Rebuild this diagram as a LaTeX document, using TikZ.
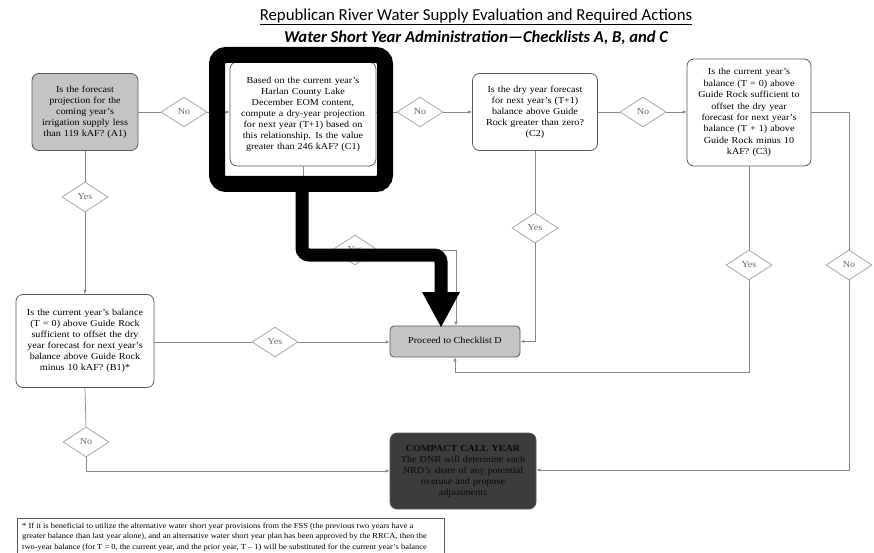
\documentclass[tikz,border=0pt]{standalone}
\usepackage{fontspec}
\setmainfont[FakeStretch=1.1]{Liberation Serif}
\newfontfamily\titlefont{Carlito}
\usetikzlibrary{shapes.geometric,arrows.meta}
\definecolor{boxline}{HTML}{5A5A5A}
\definecolor{conn}{HTML}{8A8A8A}
\definecolor{dline}{HTML}{A8A8A8}
\definecolor{dtext}{HTML}{6A6A6A}
\definecolor{boxgray}{HTML}{C4C4C4}
\definecolor{darkbox}{HTML}{3C3C3C}
\definecolor{darktext}{HTML}{0A0A0A}
\tikzset{
  qbox/.style={draw=boxline, line width=0.8pt, rounded corners=7pt, align=center,
    font=\fontsize{9.2}{11}\selectfont, inner sep=2pt, fill=white},
  dia/.style={diamond, draw=dline, line width=0.8pt, fill=white, inner sep=0pt,
    minimum width=46pt, minimum height=30pt, text=dtext, font=\fontsize{9.2}{10}\selectfont},
  conn/.style={draw=conn, line width=0.7pt},
  arr/.style={conn, -{Latex[length=4pt,width=3.4pt]}},
}
\begin{document}
\begin{tikzpicture}[x=1pt,y=-1pt]
\useasboundingbox (0,0) rectangle (874,553);
% titles
\node (t1) at (476,17) {\titlefont\fontsize{16.8}{18}\selectfont\underline{Republican River Water Supply Evaluation and Required Actions}};
\node (t2) at (476,38) {\titlefont\fontsize{16.6}{18}\selectfont\bfseries\itshape Water Short Year Administration—Checklists A, B, and C};
% boxes
\node[qbox, fill=boxgray, minimum width=106pt, minimum height=77pt, text width=102pt] (A1) at (85,112)
  {Is the forecast\\projection for the\\coming year's\\irrigation supply less\\than 119 kAF? (A1)};
\node[qbox, minimum width=146pt, minimum height=104pt, text width=142pt] (C1) at (303,114)
  {Based on the current year's\\Harlan County Lake\\December EOM content,\\compute a dry-year projection\\for next year (T+1) based on\\this relationship. Is the value\\greater than 246 kAF? (C1)\\[14pt]};
\node[qbox, minimum width=125pt, minimum height=77pt, text width=121pt] (C2) at (535,112)
  {Is the dry year forecast\\for next year's (T+1)\\balance above Guide\\Rock greater than zero?\\(C2)};
\node[qbox, minimum width=124pt, minimum height=107pt, text width=120pt, font=\fontsize{9.2}{11.4}\selectfont] (C3) at (749,112.5)
  {Is the current year's\\balance (T = 0) above\\Guide Rock sufficient to\\offset the dry year\\forecast for next year's\\balance (T + 1) above\\Guide Rock minus 10\\kAF? (C3)};
\node[qbox, minimum width=138pt, minimum height=93pt, text width=134pt] (B1) at (85,341)
  {Is the current year's balance\\(T = 0) above Guide Rock\\sufficient to offset the dry\\year forecast for next year's\\balance above Guide Rock\\minus 10 kAF? (B1)*};
\node[qbox, fill=boxgray, minimum width=130pt, minimum height=31pt, rounded corners=4pt, inner sep=0pt] (P) at (455,341.5)
  {\raisebox{3pt}{Proceed to Checklist D}};
\node[qbox, fill=darkbox, text=darktext, minimum width=146pt, minimum height=76pt, text width=142pt] (CC) at (463,471)
  {\textbf{COMPACT CALL YEAR}\\The DNR will determine each\\NRD's share of any potential\\overuse and propose\\adjustments};
% decision labels
\node[dia] (nA1) at (184,112) {No};
\node[dia] (nC1) at (420,112) {No};
\node[dia] (nC2) at (643,112) {No};
\node[dia] (yA1) at (85,197) {Yes};
\node[dia] (yB1) at (275,342) {Yes};
\node[dia] (nB1) at (86,442) {No};
\node[dia] (yC1) at (355,250) {Yes};
\node[dia] (yC2) at (535,228) {Yes};
\node[dia] (yC3) at (749,265) {Yes};
\node[dia] (nC3) at (849,265) {No};
% connectors
\coordinate (c1turn) at (456,250);
\coordinate (c3low) at (749,372);
\coordinate (c3turn) at (455,372);
\coordinate (c3r) at (849,112);
\coordinate (c3bot) at (849,470);
\coordinate (b1bot) at (86,471);
\draw[conn] (A1.east |- nA1) -- (nA1.west);
\draw[arr] (nA1.east) -- (C1.west |- nA1);
\draw[conn] (C1.east |- nC1) -- (nC1.west);
\draw[arr] (nC1.east) -- (C2.west);
\draw[conn] (C2.east) -- (nC2.west);
\draw[arr] (nC2.east) -- (C3.west |- nC2);
\draw[conn] (A1.south) -- (yA1.north);
\draw[arr] (yA1.south) -- (B1.north);
\draw[conn] (B1.east |- yB1) -- (yB1.west);
\draw[arr] (yB1.east) -- (P.west |- yB1);
\draw[conn] (C1.south) -- (C1.south |- yC1.west) -- (yC1.west);
\draw[arr] (yC1.east) -- (c1turn) -- (c1turn |- P.north);
\draw[conn] (C2.south) -- (yC2.north);
\draw[arr] (yC2.south) -- (yC2.south |- P.east) -- (P.east);
\draw[conn] (C3.south) -- (yC3.north);
\draw[arr] (yC3.south) -- (c3low) -- (c3turn) -- (c3turn |- P.south);
\draw[conn] (C3.east |- c3r) -- (c3r) -- (nC3.north);
\draw[arr] (nC3.south) -- (c3bot) -- (CC.east |- c3bot);
\draw[conn] (B1.south) -- (nB1.north);
\draw[arr] (nB1.south) -- (b1bot) -- (CC.west |- b1bot);
% footnote
\draw[boxline, line width=0.6pt] (17,560) -- (17,518) -- (444,518) -- (444,560);
\node[anchor=north west, align=left, inner sep=0pt, font=\fontsize{7.7}{10.8}\selectfont] (fn) at (22,522.5)
  {* If it is beneficial to utilize the alternative water short year provisions from the FSS (the previous two years have a\\
   greater balance than last year alone), and an alternative water short year plan has been approved by the RRCA, then the\\
   two-year balance (for T = 0, the current year, and the prior year, T -- 1) will be substituted for the current year's balance};
% black highlight
\draw[black, line width=16pt, rounded corners=9pt] (217,55) rectangle (385,184);
\draw[black, line width=13pt, rounded corners=7pt] (302,180) -- (302,255) -- (441,255) -- (441,294);
\fill[black] (422,292) -- (460,292) -- (441,327) -- cycle;
\end{tikzpicture}
\end{document}
